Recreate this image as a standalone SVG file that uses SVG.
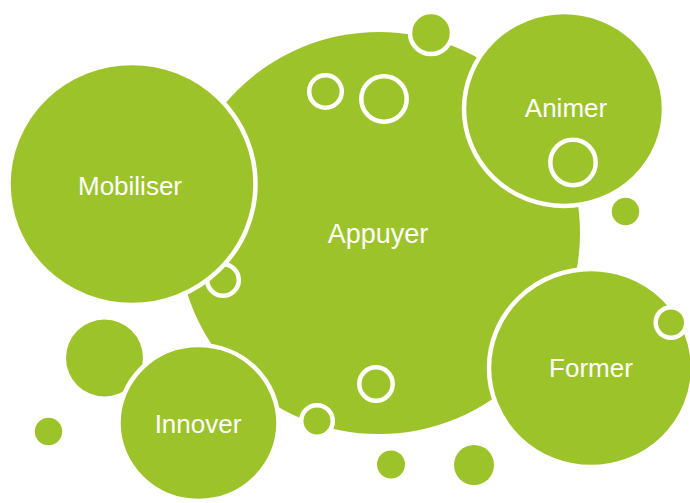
<svg xmlns="http://www.w3.org/2000/svg" width="690" height="503" viewBox="0 0 690 503">
<style>
.g{fill:#9DC32B}
.gs{fill:#9DC32B;stroke:#fff;stroke-width:4.5}
.ring{fill:#9DC32B;stroke:#fff;stroke-width:4.5}
.lbl{fill:#fff;font-family:"Liberation Sans",Arial,sans-serif;font-size:26px;text-anchor:middle}
</style>
<rect width="690" height="503" fill="#fff"/>
<g id="appuyer">
<circle class="g" cx="379" cy="233" r="201"/>
</g>
<g id="decor">
<circle class="ring" cx="223" cy="280" r="15.8"/>
<circle class="gs" cx="431" cy="33" r="21"/>
<circle class="ring" cx="325.5" cy="91.5" r="16.3"/>
<circle class="ring" cx="384" cy="99" r="22.7"/>
<circle class="ring" cx="376" cy="384" r="16.7"/>
<circle class="ring" cx="317" cy="421" r="15.8"/>
<circle class="g" cx="104.5" cy="358" r="38.5"/>
<circle class="g" cx="48.5" cy="431.5" r="13.7"/>
<circle class="g" cx="391" cy="464.5" r="14"/>
<circle class="g" cx="474" cy="465" r="20"/>
<circle class="g" cx="625.5" cy="211.5" r="13.7"/>
</g>
<g id="mobiliser">
<ellipse class="gs" cx="132" cy="184" rx="123.5" ry="121"/>
<text class="lbl" x="130" y="195">Mobiliser</text>
</g>
<g id="animer">
<ellipse class="gs" cx="564" cy="109" rx="100" ry="97"/>
<circle class="ring" cx="573" cy="162.5" r="22.7"/>
<text class="lbl" x="566" y="117">Animer</text>
</g>
<g id="former">
<ellipse class="gs" cx="591" cy="368" rx="102" ry="99"/>
<circle class="ring" cx="671" cy="322.5" r="15.3"/>
<text class="lbl" x="591" y="377">Former</text>
</g>
<g id="innover">
<ellipse class="gs" cx="198.5" cy="423" rx="80" ry="78"/>
<text class="lbl" x="198" y="433">Innover</text>
</g>
<text class="lbl" x="378" y="243" style="font-size:27px">Appuyer</text>
</svg>
